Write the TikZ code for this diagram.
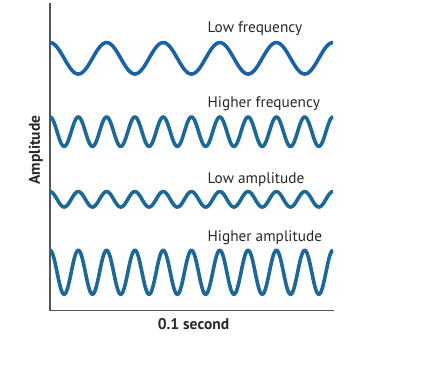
\documentclass[tikz,border=0pt]{standalone}
\usepackage{fontspec}
\setmainfont{PT Sans}
\definecolor{waveA}{RGB}{28,96,168}
\definecolor{waveB}{RGB}{28,104,150}
\definecolor{axisgray}{RGB}{85,85,85}
\definecolor{textgray}{RGB}{40,40,40}
\begin{document}
\begin{tikzpicture}[x=1pt,y=-1pt,
  wave/.style={line width=3.6pt,line join=round},
  lbl/.style={anchor=base west,inner sep=0pt,font=\fontsize{15.3}{17}\selectfont,text=textgray},
  axislbl/.style={inner sep=0pt,font=\bfseries\fontsize{15.5}{17}\selectfont,text=textgray}]
\useasboundingbox (0,0) rectangle (430,368);
% axes
\coordinate (top) at (50,3);
\coordinate (origin) at (50,310.5);
\coordinate (right) at (334,310.5);
\draw[axisgray,line width=1.4pt] (top) -- (origin) -- (right);
% waves
\draw[wave,waveA] plot[domain=0:283,samples=300,smooth] ({50+\x},{58.3-15.7*cos(6.3604*\x)});
\draw[wave,waveB] plot[domain=0:283,samples=400,smooth] ({50+\x},{131.7-14.7*cos(12.7208*\x)});
\draw[wave,waveB] plot[domain=0:283,samples=400,smooth] ({50+\x},{199.3-7.7*cos(12.7208*\x)});
\draw[wave,waveB] plot[domain=0:283,samples=400,smooth] ({50+\x},{272.3-22*cos(12.7208*\x)});
% labels
\node[lbl] (l1) at (207.5,32.5) {Low frequency};
\node[lbl] (l2) at (207.5,107) {Higher frequency};
\node[lbl] (l3) at (207.5,183) {Low amplitude};
\node[lbl] (l4) at (207.5,241) {Higher amplitude};
\node[axislbl,rotate=90] (ylab) at (36,150) {Amplitude};
\node[axislbl] (xlab) at (193.5,324) {0.1 second};
\end{tikzpicture}
\end{document}
